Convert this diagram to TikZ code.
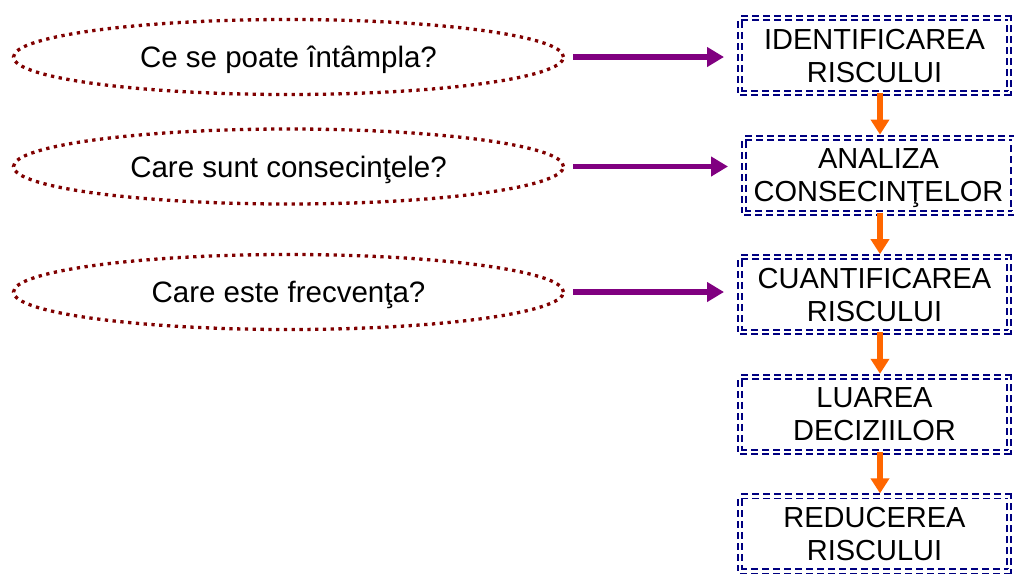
\documentclass[tikz,border=0pt]{standalone}
\usepackage{fontspec}
\setmainfont{Liberation Sans}
\usepackage{tikz}
\usetikzlibrary{positioning,shapes,arrows.meta}
\definecolor{boxblue}{RGB}{0,0,128}
\definecolor{ovalred}{RGB}{128,0,0}
\definecolor{askpurple}{RGB}{128,0,128}
\definecolor{floworange}{RGB}{255,102,0}

\begin{document}
\begin{tikzpicture}[x=1pt,y=1pt,
		stepbox/.style={draw=boxblue, double, line width=1.9pt, double distance=2.2pt,
		dash pattern=on 7pt off 4pt, minimum width=269pt, minimum height=75pt,
		align=center, outer sep=0pt, text depth=0pt, font=\fontsize{29}{33}\selectfont},
		question/.style={ellipse, draw=ovalred, line width=3.3pt, dash pattern=on 3.3pt off 4.5pt,
		minimum width=550pt, minimum height=75pt, text height=24pt, text depth=3pt,
		font=\fontsize{29.5}{33}\selectfont},
		askarrow/.style={-{Triangle[length=17pt,width=19pt]}, draw=askpurple, line width=5.5pt,
		shorten <=8pt, shorten >=16pt},
		flowarrow/.style={-{Triangle[length=15pt,width=18pt]}, draw=floworange, line width=6pt,
		shorten >=3pt},
		node distance=44.6pt]
		\useasboundingbox (0,0) rectangle (1014,-574);
		% the steps
		\node[stepbox] (b1) at (874.5,-55.5) {IDENTIFICAREA\\RISCULUI};
		\node[stepbox, below=of b1, xshift=4pt] (b2) {ANALIZA\\CONSECINŢELOR};
		\node[stepbox, below=of b2, xshift=-4pt] (b3) {CUANTIFICAREA\\RISCULUI};
		\node[stepbox, below=of b3] (b4) {LUAREA\\DECIZIILOR};
		\node[stepbox, below=of b4] (b5) {REDUCEREA\\RISCULUI};
		% the questions
		\node[question] (q1) at (288.5,-57) {Ce se poate întâmpla?};
		\node[question] (q2) at (288.5,-166.5) {Care sunt consecinţele?};
		\node[question] (q3) at (288.5,-292) {Care este frecvenţa?};
		\foreach \q/\b in {q1/b1,q2/b2,q3/b3}
			\draw[askarrow] (\q.east) -- (\q.east -| \b.west);
		\coordinate (axis) at (880,0);
		\foreach \a/\b in {b1/b2,b2/b3,b3/b4,b4/b5}
			\draw[flowarrow] (\a.south -| axis) -- (\b.north -| axis);
\end{tikzpicture}
\end{document}
